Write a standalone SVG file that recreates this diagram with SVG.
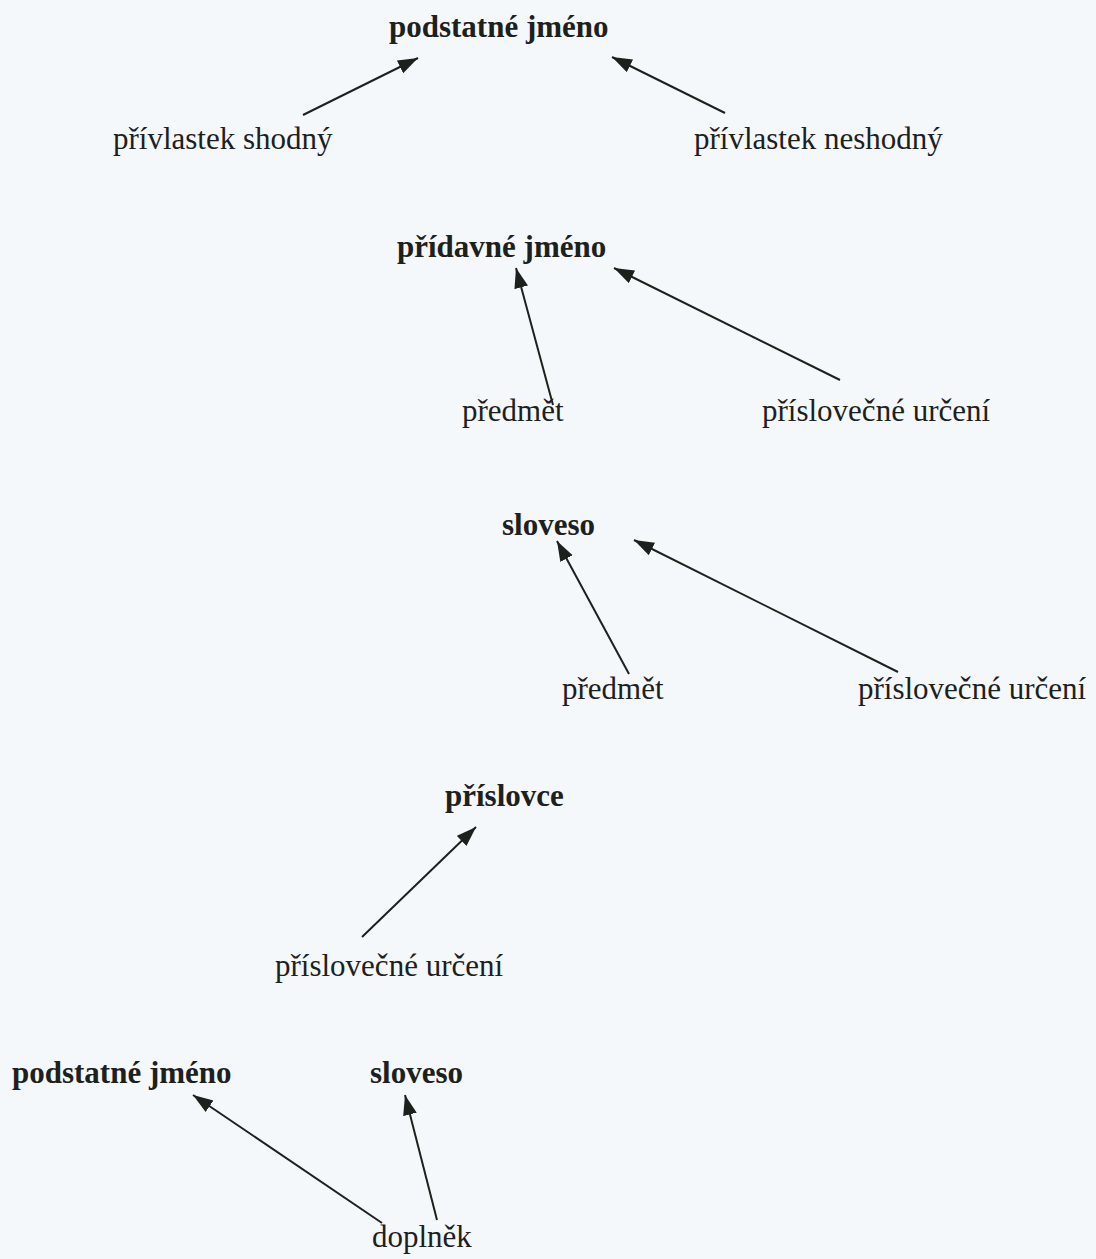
<svg xmlns="http://www.w3.org/2000/svg" width="1096" height="1259" viewBox="0 0 1096 1259">
<defs>
<style>
.t{font-family:"Liberation Serif","Times New Roman",serif;font-size:31px;fill:#1d211d}
.b{font-weight:bold}
.c line{stroke:#1d211d;stroke-width:2;marker-end:url(#ah)}
</style>
<marker id="ah" markerUnits="userSpaceOnUse" markerWidth="22" markerHeight="16" refX="20" refY="7" orient="auto">
<path d="M0,0 L20,7 L0,14 z" fill="#1d211d"/>
</marker>
</defs>
<rect width="1096" height="1259" fill="#f5f8fb"/>
<g id="n1"><text class="t b" x="389" y="37">podstatné jméno</text></g>
<g id="n2"><text class="t" x="113" y="149">přívlastek shodný</text></g>
<g id="n3"><text class="t" x="694" y="149">přívlastek neshodný</text></g>
<g id="n4"><text class="t b" x="397" y="257">přídavné jméno</text></g>
<g id="n5"><text class="t" x="462" y="421">předmět</text></g>
<g id="n6"><text class="t" x="762" y="421">příslovečné určení</text></g>
<g id="n7"><text class="t b" x="502" y="535">sloveso</text></g>
<g id="n8"><text class="t" x="562" y="699">předmět</text></g>
<g id="n9"><text class="t" x="858" y="699">příslovečné určení</text></g>
<g id="n10"><text class="t b" x="445" y="806">příslovce</text></g>
<g id="n11"><text class="t" x="275" y="976">příslovečné určení</text></g>
<g id="n12"><text class="t b" x="12" y="1083">podstatné jméno</text></g>
<g id="n13"><text class="t b" x="370" y="1083">sloveso</text></g>
<g id="n14"><text class="t" x="372" y="1247">doplněk</text></g>
<g id="connectors" class="c">
<line x1="303" y1="115" x2="418" y2="58"/>
<line x1="725" y1="113" x2="612" y2="57"/>
<line x1="553" y1="405" x2="516" y2="268"/>
<line x1="840" y1="380" x2="614" y2="268"/>
<line x1="629" y1="674" x2="557" y2="541"/>
<line x1="898" y1="672" x2="634" y2="540"/>
<line x1="362" y1="937" x2="476" y2="827"/>
<line x1="382" y1="1223" x2="193" y2="1095"/>
<line x1="437" y1="1220" x2="405" y2="1095"/>
</g>
</svg>
